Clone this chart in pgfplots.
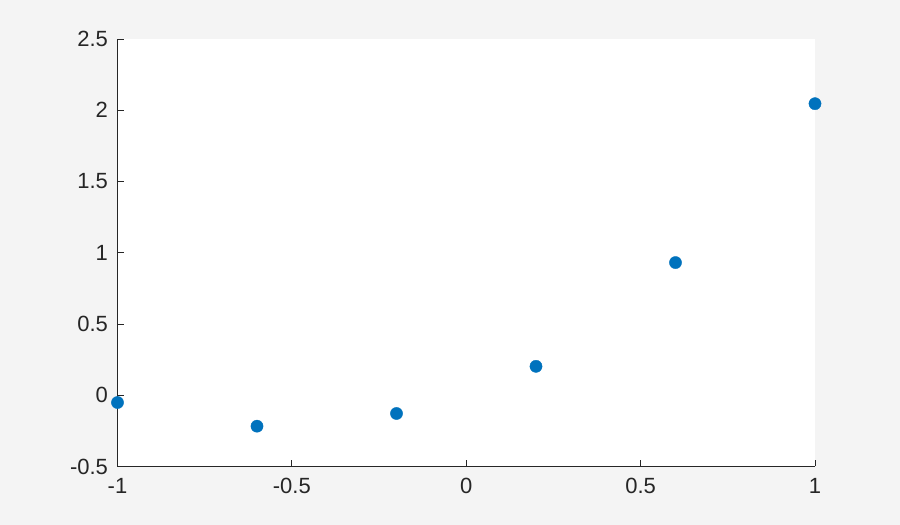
\documentclass[border=0pt]{standalone}
\usepackage{fontspec}
\setmainfont{Liberation Sans}
\usepackage{pgfplots}
\pgfplotsset{compat=1.18}
\definecolor{figbg}{HTML}{F4F4F4}
\definecolor{axcol}{HTML}{262626}
\definecolor{mblue}{HTML}{0072BD}
\begin{document}
\begin{tikzpicture}
\fill[figbg] (0,0) rectangle (900pt,525pt);
\begin{axis}[
  at={(117.5pt,58.5pt)}, anchor=south west,
  scale only axis, width=697.5pt, height=427.5pt,
  xmin=-1, xmax=1, ymin=-0.5, ymax=2.5,
  axis x line=bottom, axis y line=left,
  axis line style={-, axcol, line width=0.8pt},
  axis background/.style={fill=white},
  tick align=inside, major tick length=6pt,
  tick style={axcol, line width=0.8pt},
  xtick={-1,-0.5,0,0.5,1},
  xticklabels={-1,-0.5,0,0.5,1},
  ytick={-0.5,0,0.5,1,1.5,2,2.5},
  yticklabels={-0.5,0,0.5,1,1.5,2,2.5},
  ticklabel style={font=\fontsize{22}{25}\selectfont, text=axcol},
  xticklabel style={yshift=-8pt},
  yticklabel style={xshift=-6pt},
  clip=false,
]
\addplot[only marks, mark=*, mark size=6.1pt, mark options={fill=mblue, draw=mblue, line width=0.4pt}]
  coordinates {(-1,-0.051) (-0.6,-0.217) (-0.2,-0.128) (0.2,0.203) (0.6,0.931) (1,2.046)};
\end{axis}
\end{tikzpicture}
\end{document}
